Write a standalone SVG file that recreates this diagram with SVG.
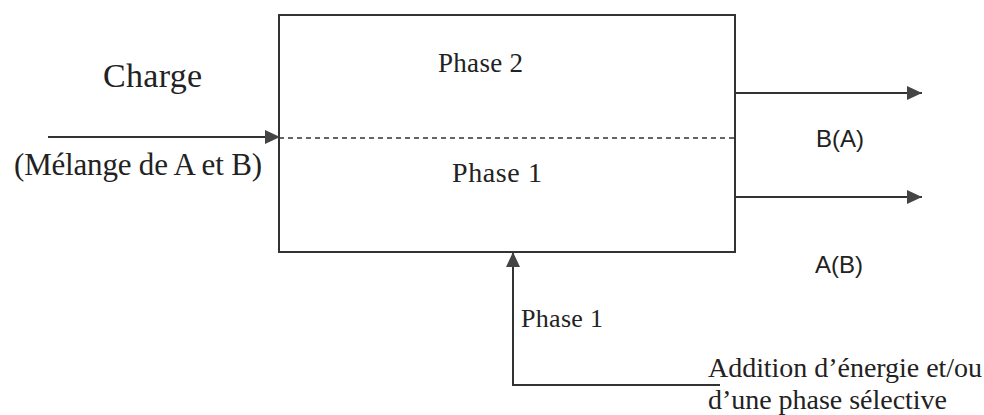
<svg xmlns="http://www.w3.org/2000/svg" width="984" height="415" viewBox="0 0 984 415">
  <style>
    .line { stroke: #333; stroke-width: 2; fill: none; }
    .dash { stroke: #333; stroke-width: 1.6; stroke-dasharray: 5 4; fill: none; }
    .serif { font-family: "Liberation Serif", "Times New Roman", serif; fill: #222; }
    .sans { font-family: "Liberation Sans", Arial, sans-serif; fill: #222; }
  </style>
  <defs>
    <marker id="arrow" viewBox="0 0 15 14" refX="15" refY="7" markerWidth="15" markerHeight="14" markerUnits="userSpaceOnUse" orient="auto">
      <path d="M0,0 L15,7 L0,14 Z" fill="#444"/>
    </marker>
  </defs>

  <rect width="984" height="415" fill="#fff"/>

  <!-- Separator vessel with two phases -->
  <g id="vessel">
    <rect x="279" y="15" width="456" height="237" class="line"/>
    <line x1="279" y1="138" x2="735" y2="138" class="dash"/>
    <text x="438" y="72" class="serif" font-size="27" textLength="85">Phase 2</text>
    <text x="452" y="182" class="serif" font-size="28" textLength="90">Phase 1</text>
  </g>

  <!-- Flow connectors -->
  <g id="connectors">
    <line x1="48" y1="137" x2="280" y2="137" class="line" marker-end="url(#arrow)"/>
    <line x1="735" y1="93" x2="922" y2="93" class="line" marker-end="url(#arrow)"/>
    <line x1="735" y1="197" x2="922" y2="197" class="line" marker-end="url(#arrow)"/>
    <polyline points="720,385 513,385 513,252" class="line" marker-end="url(#arrow)"/>
  </g>

  <g id="feed">
    <text x="103" y="87" class="serif" font-size="34" textLength="99">Charge</text>
    <text x="14" y="175" class="serif" font-size="31" textLength="248">(Mélange de A et B)</text>
  </g>

  <g id="outlet-top">
    <text x="816" y="147" class="sans" font-size="24">B(A)</text>
  </g>

  <g id="outlet-bottom">
    <text x="815" y="273" class="sans" font-size="24">A(B)</text>
  </g>

  <g id="selective-feed">
    <text x="521" y="327" class="serif" font-size="26" textLength="82">Phase 1</text>
    <text x="708" y="377" class="serif" font-size="28" textLength="274">Addition d’énergie et/ou</text>
    <text x="708" y="409" class="serif" font-size="28" textLength="239">d’une phase sélective</text>
  </g>
</svg>
